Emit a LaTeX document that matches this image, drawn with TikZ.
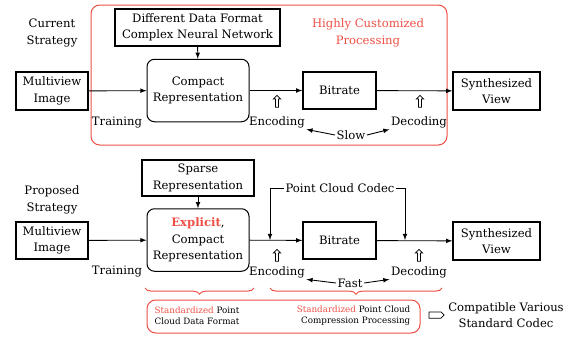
\documentclass[tikz,border=0pt]{standalone}
\usepackage{fontspec}
\setmainfont{DejaVu Serif}
\usepackage{tikz}
\usetikzlibrary{shapes.arrows,shapes.symbols,decorations.pathreplacing}
\definecolor{hred}{RGB}{238,80,70}
\tikzstyle{txt} = [align=center, inner sep=1pt, font={\fontsize{9.3}{13.2}\selectfont}]
\tikzstyle{box} = [txt, draw=black, line width=1.2pt]
\tikzstyle{rbox} = [txt, draw=black, line width=0.8pt, rounded corners=6pt, minimum width=81.6pt, minimum height=50pt]
\tikzstyle{frame} = [draw=hred, line width=0.8pt, rounded corners=7pt]
\tikzstyle{up} = [draw=black, single arrow, shape border rotate=90, minimum height=9.5pt, minimum width=6pt, single arrow head extend=1.5pt, inner sep=0.6pt, line width=0.6pt]
\tikzstyle{small} = [align=center, inner sep=1pt, font={\fontsize{7}{9}\selectfont}]
\tikzstyle{brace} = [draw=hred, line width=0.8pt, decorate, decoration={brace, mirror, amplitude=5pt}]

\begin{document}
\begin{tikzpicture}[x=0.8pt, y=-0.8pt, >=latex, line width=0.7pt]
    \useasboundingbox (0,0) rectangle (570,345);
    % current strategy
    \draw[frame] (91,5) rectangle (447,145);
    \node[txt](cur) at (52,33){Current\\Strategy};
    \node[txt, text=hred](hcp) at (368,33){Highly Customized\\Processing};
    \node[box, minimum width=132pt, minimum height=29.6pt](cnn) at (197.5,27.5){Different Data Format\\Complex Neural Network};
    \node[box, minimum width=57.6pt, minimum height=30.4pt](mv1) at (52,91){Multiview\\Image};
    \node[rbox](crep1) at (198,90.5){Compact\\Representation};
    \node[box, minimum width=58.4pt, minimum height=29.6pt](br1) at (339.5,90.5){Bitrate};
    \node[box, minimum width=69.6pt, minimum height=30.4pt](sv1) at (496.5,91){Synthesized\\View};
    \node[txt](train1) at (117,123){Training};
    \node[up](ua1) at (277,102){};
    \node[up](ua2) at (420,102){};
    \node[txt](enc1) at (277,122){Encoding};
    \node[txt](dec1) at (419,122){Decoding};
    \node[txt](slow) at (351,135){Slow};
    \draw[->](cnn)--(crep1);
    \draw[->](mv1)--(crep1);
    \draw[->](crep1)--(br1);
    \draw[->](br1)--(sv1);
    \draw[->](slow.west)--(enc1.south east);
    \draw[->](slow.east)--(dec1.south west);
    % proposed strategy
    \node[txt](prop) at (52,200){Proposed\\Strategy};
    \node[box, minimum width=89.6pt, minimum height=28.8pt](sparse) at (198,178){Sparse\\Representation};
    \node[box, minimum width=57.6pt, minimum height=29.6pt](mv2) at (52,240.5){Multiview\\Image};
    \node[rbox](crep2) at (198,240){\textcolor{hred}{\textbf{Explicit}},\\Compact\\Representation};
    \node[box, minimum width=58.4pt, minimum height=29.6pt](br2) at (339.5,240.5){Bitrate};
    \node[box, minimum width=69.6pt, minimum height=30.4pt](sv2) at (496.5,241){Synthesized\\View};
    \node[txt](pcc) at (340,188){Point Cloud Codec};
    \coordinate(in2) at (270,240);
    \coordinate(out2) at (405,240);
    \node[txt](train2) at (117,272){Training};
    \node[up](ua3) at (277,256){};
    \node[up](ua4) at (419,256){};
    \node[txt](enc2) at (277,272){Encoding};
    \node[txt](dec2) at (419,272){Decoding};
    \node[txt](fast) at (350,283){Fast};
    \draw[->](sparse)--(crep2);
    \draw[->](mv2)--(crep2);
    \draw[->](crep2)--(br2);
    \draw[->](br2)--(sv2);
    \draw[->](pcc.west)-|(in2);
    \draw[->](pcc.east)-|(out2);
    \draw[->](fast.west)--(enc2.south east);
    \draw[->](fast.east)--(dec2.south west);
    % standardized
    \draw[brace](145,288)--(254,288);
    \draw[brace](270,288)--(442,288);
    \draw[frame](147,300) rectangle (420,333);
    \node[small](std1) at (197,316){\textcolor{hred}{Standardized} Point\\Cloud Data Format};
    \node[small, align=right, anchor=east](std2) at (412,316){\textcolor{hred}{Standardized} Point Cloud\\Compression Processing};
    \node[draw=black, signal, signal to=east, minimum width=12pt, minimum height=5pt, inner sep=0pt, line width=0.6pt](sig) at (435,315){};
    \node[txt](compat) at (506,315){Compatible Various\\Standard Codec};
  \end{tikzpicture}
\end{document}
